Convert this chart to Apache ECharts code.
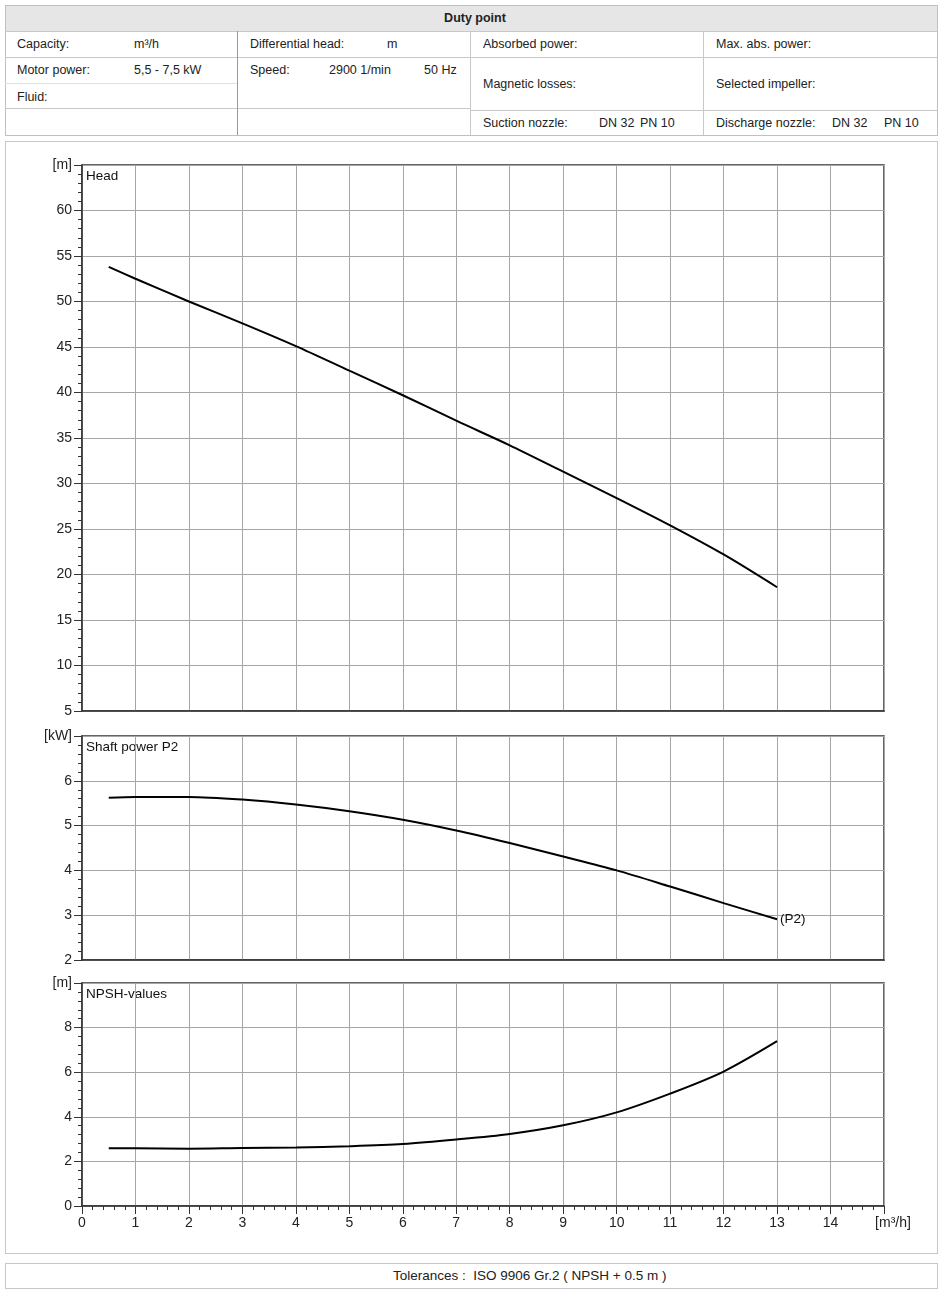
<!DOCTYPE html>
<html>
<head>
<meta charset="utf-8">
<script src="https://cdn.jsdelivr.net/npm/echarts@6/dist/echarts.min.js"></script>
<style>
  body { margin: 0; background: #fff; font-family: "Liberation Sans", Arial, sans-serif; color: #222; }
  .abs { position: absolute; }
  .t { position: absolute; font-size: 12.5px; line-height: 14px; white-space: nowrap; transform: translateY(-50%); }
  .hl { position: absolute; height: 0; border-top: 1px solid #c8c8c8; }
  .vl { position: absolute; width: 0; border-left: 1px solid #9a9a9a; }
</style>
</head>
<body>
<!-- duty point table -->
<div class="abs" style="left:5px;top:5px;width:931px;height:129px;border:1px solid #c0c0c0;"></div>
<div class="abs" style="left:6px;top:6px;width:931px;height:25px;background:#e6e6e6;"></div>
<div class="t" style="left:475px;top:18px;font-weight:bold;transform:translate(-50%,-50%);">Duty point</div>
<div class="hl" style="left:5px;top:31px;width:932px;"></div>
<div class="hl" style="left:5px;top:57px;width:465px;"></div>
<div class="hl" style="left:5px;top:83px;width:232px;border-color:#e0e0e0;"></div>
<div class="hl" style="left:5px;top:108px;width:465px;"></div>
<div class="hl" style="left:470px;top:57px;width:467px;"></div>
<div class="hl" style="left:470px;top:110px;width:467px;"></div>
<div class="vl" style="left:237px;top:31px;height:104px;"></div>
<div class="vl" style="left:470px;top:31px;height:104px;border-color:#c8c8c8;"></div>
<div class="vl" style="left:703px;top:31px;height:104px;border-color:#c8c8c8;"></div>

<div class="t" style="left:17px;top:44px;">Capacity:</div>
<div class="t" style="left:134px;top:44px;">m³/h</div>
<div class="t" style="left:250px;top:44px;">Differential head:</div>
<div class="t" style="left:387px;top:44px;">m</div>
<div class="t" style="left:17px;top:70px;">Motor power:</div>
<div class="t" style="left:134px;top:70px;">5,5 - 7,5 kW</div>
<div class="t" style="left:250px;top:70px;">Speed:</div>
<div class="t" style="left:329px;top:70px;">2900 1/min</div>
<div class="t" style="left:424px;top:70px;">50 Hz</div>
<div class="t" style="left:17px;top:97px;">Fluid:</div>
<div class="t" style="left:483px;top:44px;">Absorbed power:</div>
<div class="t" style="left:716px;top:44px;">Max. abs. power:</div>
<div class="t" style="left:483px;top:84px;">Magnetic losses:</div>
<div class="t" style="left:716px;top:84px;">Selected impeller:</div>
<div class="t" style="left:483px;top:123px;">Suction nozzle:</div>
<div class="t" style="left:599px;top:123px;">DN 32</div>
<div class="t" style="left:640px;top:123px;">PN 10</div>
<div class="t" style="left:716px;top:123px;">Discharge nozzle:</div>
<div class="t" style="left:832px;top:123px;">DN 32</div>
<div class="t" style="left:884px;top:123px;">PN 10</div>

<!-- chart panel + footer -->
<div class="abs" style="left:5px;top:141px;width:931px;height:1111px;border:1px solid #c8c8c8;"></div>
<div class="abs" style="left:5px;top:1263px;width:931px;height:24px;border:1px solid #c8c8c8;"></div>
<div class="t" style="left:393px;top:1276px;font-size:13.5px;">Tolerances :&nbsp; ISO 9906 Gr.2 ( NPSH + 0.5 m )</div>

<div id="main" class="abs" style="left:0;top:0;width:940px;height:1292px;"></div>
<script>
// flow rate [m3/h]
const flow = [0.5, 1, 2, 3, 4, 5, 6, 7, 8, 9, 10, 11, 12, 13];
// head [m]
const head = [53.8, 52.5, 50.0, 47.6, 45.1, 42.4, 39.7, 36.9, 34.2, 31.3, 28.4, 25.4, 22.2, 18.6];
// shaft power P2 [kW]
const power = [5.62, 5.64, 5.64, 5.58, 5.47, 5.32, 5.13, 4.89, 4.61, 4.31, 4.0, 3.64, 3.27, 2.91];
// NPSH [m]
const npsh = [2.59, 2.59, 2.57, 2.6, 2.62, 2.68, 2.78, 2.98, 3.23, 3.62, 4.2, 5.04, 6.03, 7.39];

const xTicks = [0, 1, 2, 3, 4, 5, 6, 7, 8, 9, 10, 11, 12, 13, 14];
const xUnit = '[m³/h]';

const font = '"Liberation Sans", Arial, sans-serif';
const axisColor = '#333';
const gridColor = '#a6a6a6';

const chart = echarts.init(document.getElementById('main'));

function zip(xs, ys) {
  return xs.map((x, i) => [x, ys[i]]);
}

function xAxisOf(idx, showLabels) {
  return {
    type: 'value', gridIndex: idx, min: 0, max: 15, interval: 1,
    axisLine: { show: true, onZero: false, lineStyle: { color: axisColor, width: 1.5 } },
    axisTick: { show: showLabels, length: 8, lineStyle: { color: axisColor } },
    minorTick: { show: showLabels, splitNumber: 5, length: 4, lineStyle: { color: axisColor } },
    axisLabel: {
      show: showLabels, margin: 10, fontSize: 14, color: '#222', fontFamily: font,
      formatter: v => (v === 15 ? '{u|' + xUnit + '}' : (xTicks.indexOf(v) >= 0 ? String(v) : '')),
      rich: { u: { fontSize: 14, fontFamily: font, color: '#222', padding: [0, 0, 0, 18] } }
    },
    splitLine: { show: true, lineStyle: { color: gridColor, width: 1 } }
  };
}

function yAxisOf(idx, min, max, step, unit, minorSplit) {
  return {
    type: 'value', gridIndex: idx, min: min, max: max, interval: step,
    axisLine: { show: true, lineStyle: { color: axisColor, width: 1.5 } },
    axisTick: { show: true, length: 8, lineStyle: { color: axisColor } },
    minorTick: { show: true, splitNumber: minorSplit, length: 4, lineStyle: { color: axisColor } },
    axisLabel: {
      margin: 10, fontSize: 14, color: '#222', fontFamily: font,
      formatter: v => (v === max ? unit : String(v))
    },
    splitLine: { show: true, lineStyle: { color: gridColor, width: 1 } }
  };
}

function curve(idx, ys, extra) {
  return Object.assign({
    type: 'line', xAxisIndex: idx, yAxisIndex: idx,
    data: zip(flow, ys), smooth: 0.3, showSymbol: false, silent: true,
    lineStyle: { color: '#000', width: 2 }
  }, extra || {});
}

function caption(text, top) {
  return {
    type: 'text', left: 86, top: top,
    style: { text: text, fontSize: 13.5, fontFamily: font, fill: '#111' }
  };
}

chart.setOption({
  animation: false,
  grid: [
    { left: 82, top: 165, width: 802, height: 546, show: true, borderColor: axisColor, borderWidth: 1.5 },
    { left: 82, top: 736, width: 802, height: 224, show: true, borderColor: axisColor, borderWidth: 1.5 },
    { left: 82, top: 983, width: 802, height: 223, show: true, borderColor: axisColor, borderWidth: 1.5 }
  ],
  xAxis: [xAxisOf(0, false), xAxisOf(1, false), xAxisOf(2, true)],
  yAxis: [
    yAxisOf(0, 5, 65, 5, '[m]', 5),
    yAxisOf(1, 2, 7, 1, '[kW]', 5),
    yAxisOf(2, 0, 10, 2, '[m]', 5)
  ],
  series: [
    curve(0, head),
    curve(1, power, {
      endLabel: { show: true, formatter: '(P2)', fontSize: 13.5, fontFamily: font, color: '#111', distance: 3 }
    }),
    curve(2, npsh)
  ],
  graphic: [
    caption('Head', 169),
    caption('Shaft power P2', 740),
    caption('NPSH-values', 987)
  ]
});
</script>
</body>
</html>
